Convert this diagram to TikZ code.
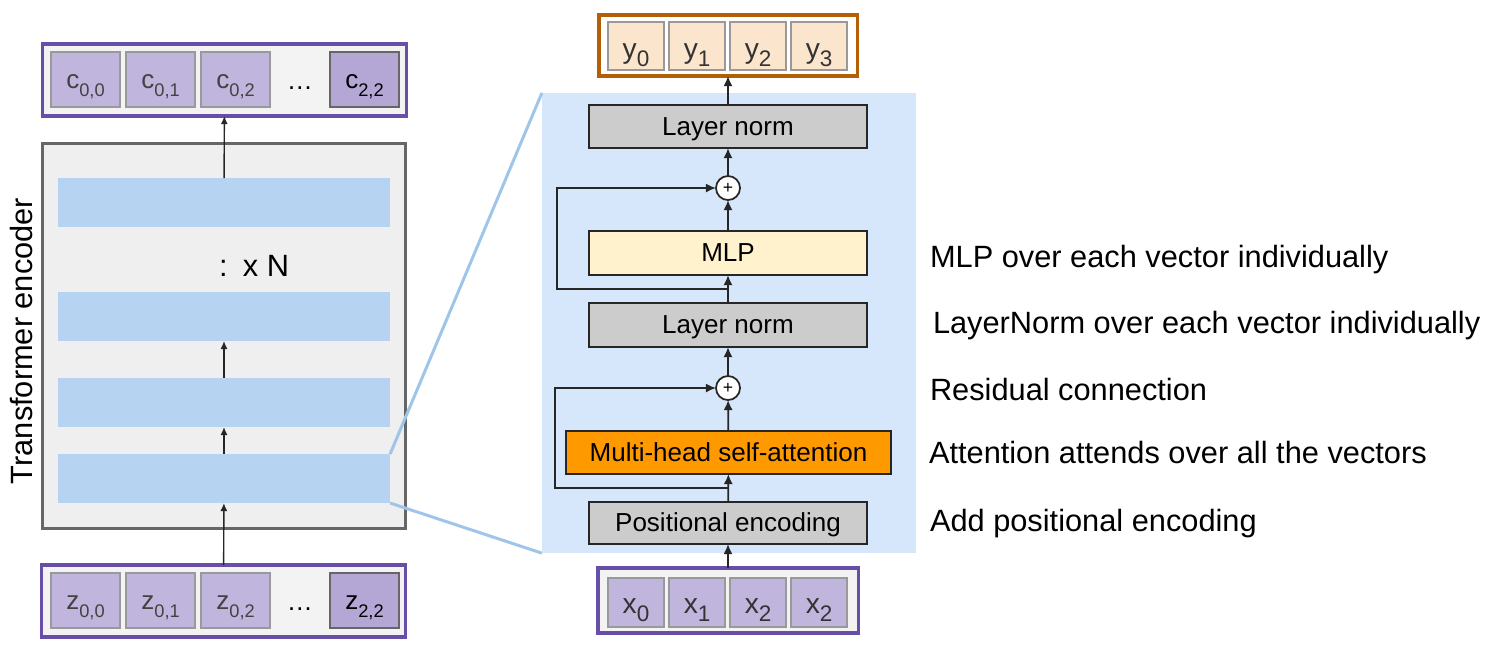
\documentclass[tikz,border=0pt]{standalone}
\usepackage{fontspec}
\setmainfont{Liberation Sans}
\usepackage{tikz}
\usetikzlibrary{arrows.meta,positioning,calc}

\definecolor{cellpurple}{HTML}{C0B5DD}
\definecolor{cellpurpledk}{HTML}{B4A7D6}
\definecolor{rowpurple}{HTML}{674EA7}
\definecolor{rowbg}{HTML}{F3F3F3}
\definecolor{encbg}{HTML}{EFEFEF}
\definecolor{encline}{HTML}{666666}
\definecolor{blockblue}{HTML}{B7D3F2}
\definecolor{panelblue}{HTML}{D6E7FB}
\definecolor{zoomblue}{HTML}{9FC5E8}
\definecolor{normgray}{HTML}{CCCCCC}
\definecolor{mlpyellow}{HTML}{FFF2CC}
\definecolor{attnorange}{HTML}{FF9900}
\definecolor{outbrown}{HTML}{B45F06}
\definecolor{cellpeach}{HTML}{FCE5CD}

% lowered indices for the token cells
\newcommand{\zsub}[1]{\raisebox{-0.75mm}{\fontsize{5.2}{6}\selectfont #1}}
\newcommand{\xsub}[1]{\raisebox{-0.8mm}{\fontsize{6.4}{7}\selectfont #1}}

\begin{document}
\begin{tikzpicture}[
  x=0.01cm, y=-0.01cm,
  node distance=0.6mm,
  every node/.style={inner sep=0pt, outer sep=0pt},
  txt/.style={font=\fontsize{8.75}{10.5}\selectfont},
  rowbox/.style={draw=rowpurple, line width=0.9pt, fill=rowbg},
  zcell/.style={draw=black!40, line width=0.4pt, fill=cellpurple, text=black!74, minimum width=6.9mm, minimum height=5.5mm, text height=1.8mm, text depth=0pt, font=\fontsize{7.4}{9}\selectfont},
  zlast/.style={zcell, draw=black!60, fill=cellpurpledk, text=black},
  ycell/.style={zcell, fill=cellpeach, text=black!80, minimum width=5.6mm, minimum height=4.8mm, text height=2.4mm, font=\fontsize{8}{9}\selectfont},
  xcell/.style={zcell, text=black!80, minimum width=5.6mm, minimum height=4.9mm, text height=2.1mm, font=\fontsize{8}{9}\selectfont},
  block/.style={fill=blockblue, minimum width=3.32cm, minimum height=4.9mm},
  box/.style={draw=black!85, line width=0.55pt, minimum width=2.77cm, minimum height=4.3mm, text height=1.9mm, text depth=0.2mm, font=\fontsize{7.4}{9}\selectfont},
  sumnode/.style={circle, draw=black!85, fill=white, line width=0.5pt, minimum size=2.4mm, font=\fontsize{5}{6}\selectfont},
  arrow/.style={-{Latex[length=1mm, width=0.9mm]}, line width=0.5pt, draw=black!85},
  thinarrow/.style={-{Latex[length=0.8mm, width=0.7mm]}, line width=0.4pt, draw=black!85},
  zoomline/.style={draw=zoomblue, line width=0.85pt}
]
\useasboundingbox (0,0) rectangle (1491,653);

% encoder stack
\node[draw=encline, line width=0.85pt, fill=encbg, minimum width=3.62cm, minimum height=3.84cm] (enc) at (224,336) {};
\node[block] (blk1) at (224,202.5) {};
\node[block] (blk2) at (224,316.5) {};
\node[block] (blk3) at (224,402.5) {};
\node[block] (blk4) at (224,478.5) {};
\node[txt, rotate=90] (enclbl) at (22,341) {Transformer encoder};
\node[txt, anchor=west] (rep) at (219,266) {:\hspace{0.5em}x N};

% output tokens
\node[rowbox, minimum width=3.63cm, minimum height=7.2mm] (crow) at (224.5,80) {};
\node[zcell] (c00) at (85.5,79.5) {c\zsub{0,0}};
\node[zcell, right=of c00] (c01) {c\zsub{0,1}};
\node[zcell, right=of c01] (c02) {c\zsub{0,2}};
\node[zlast] (c22) at (364.5,79.5) {c\zsub{2,2}};
\node[font=\fontsize{7.4}{9}\selectfont] (cdots) at (300,88) {\dots};

% input tokens
\node[rowbox, minimum width=3.63cm, minimum height=7.2mm] (zrow) at (223.5,601) {};
\node[zcell] (z00) at (85.5,600.5) {z\zsub{0,0}};
\node[zcell, right=of z00] (z01) {z\zsub{0,1}};
\node[zcell, right=of z01] (z02) {z\zsub{0,2}};
\node[zlast] (z22) at (364.5,600.5) {z\zsub{2,2}};
\node[font=\fontsize{7.4}{9}\selectfont] (zdots) at (300,609) {\dots};

\draw[thinarrow] (zrow) -- (blk4);
\draw[thinarrow] (blk4) -- (blk3);
\draw[thinarrow] (blk3) -- (blk2);
\draw[thinarrow] (blk1) -- (crow);

% zoomed block
\node[fill=panelblue, minimum width=3.74cm, minimum height=4.6cm] (panel) at (729,323) {};
\draw[zoomline] (blk4.north east) -- (panel.north west);
\draw[zoomline] (blk4.south east) -- (panel.south west);

\node[box, fill=normgray] (ln2) at (728,126.5) {Layer norm};
\node[sumnode] (sum2) at (728,188) {+};
\node[box, fill=mlpyellow, minimum height=4.4mm] (mlp) at (728,253) {MLP};
\node[box, fill=normgray, minimum height=4.4mm] (ln1) at (728,325) {Layer norm};
\node[sumnode] (sum1) at (728,388) {+};
\node[box, fill=attnorange, minimum width=3.25cm] (mhsa) at (728.5,452.5) {Multi-head self-attention};
\node[box, fill=normgray, minimum height=4.2mm] (pe) at (728,523) {Positional encoding};

% token rows
\node[draw=outbrown, line width=0.9pt, fill=white, minimum width=2.58cm, minimum height=6.1mm] (yrow) at (728,45.5) {};
\node[ycell] (y0) at (636,46) {y\xsub{0}};
\node[ycell, right=0.5mm of y0] (y1) {y\xsub{1}};
\node[ycell, right=0.5mm of y1] (y2) {y\xsub{2}};
\node[ycell, right=0.5mm of y2] (y3) {y\xsub{3}};

\node[rowbox, minimum width=2.6cm, minimum height=6.5mm] (xrow) at (728,600.5) {};
\node[xcell] (x0) at (636,602.5) {x\xsub{0}};
\node[xcell, right=0.5mm of x0] (x1) {x\xsub{1}};
\node[xcell, right=0.5mm of x1] (x2) {x\xsub{2}};
\node[xcell, right=0.5mm of x2] (x3) {x\xsub{2}};

\draw[arrow] (xrow) -- (pe);
\draw[arrow] (pe) -- (mhsa);
\draw[arrow] (mhsa) -- (sum1);
\draw[arrow] (sum1) -- (ln1);
\draw[arrow] (ln1) -- (mlp);
\draw[arrow] (mlp) -- (sum2);
\draw[arrow] (sum2) -- (ln2);
\draw[arrow] (ln2) -- (yrow);

% residual paths
\coordinate (res1) at ($(pe.north)!0.5!(mhsa.south)$);
\coordinate (res2) at ($(ln1.north)!0.5!(mlp.south)$);
\draw[arrow] (res1) -- ++(-173,0) |- (sum1);
\draw[arrow] (res2) -- ++(-171,0) |- (sum2);

% notes
\node[txt, anchor=base west] (notemlp) at (930,267) {MLP over each vector individually};
\node[txt, anchor=base west] (notenorm) at (933,333) {LayerNorm over each vector individually};
\node[txt, anchor=base west] (noteres) at (930,400) {Residual connection};
\node[txt, anchor=base west] (noteattn) at (929,463) {Attention attends over all the vectors};
\node[txt, anchor=base west] (notepos) at (930,531) {Add positional encoding};
\end{tikzpicture}
\end{document}
